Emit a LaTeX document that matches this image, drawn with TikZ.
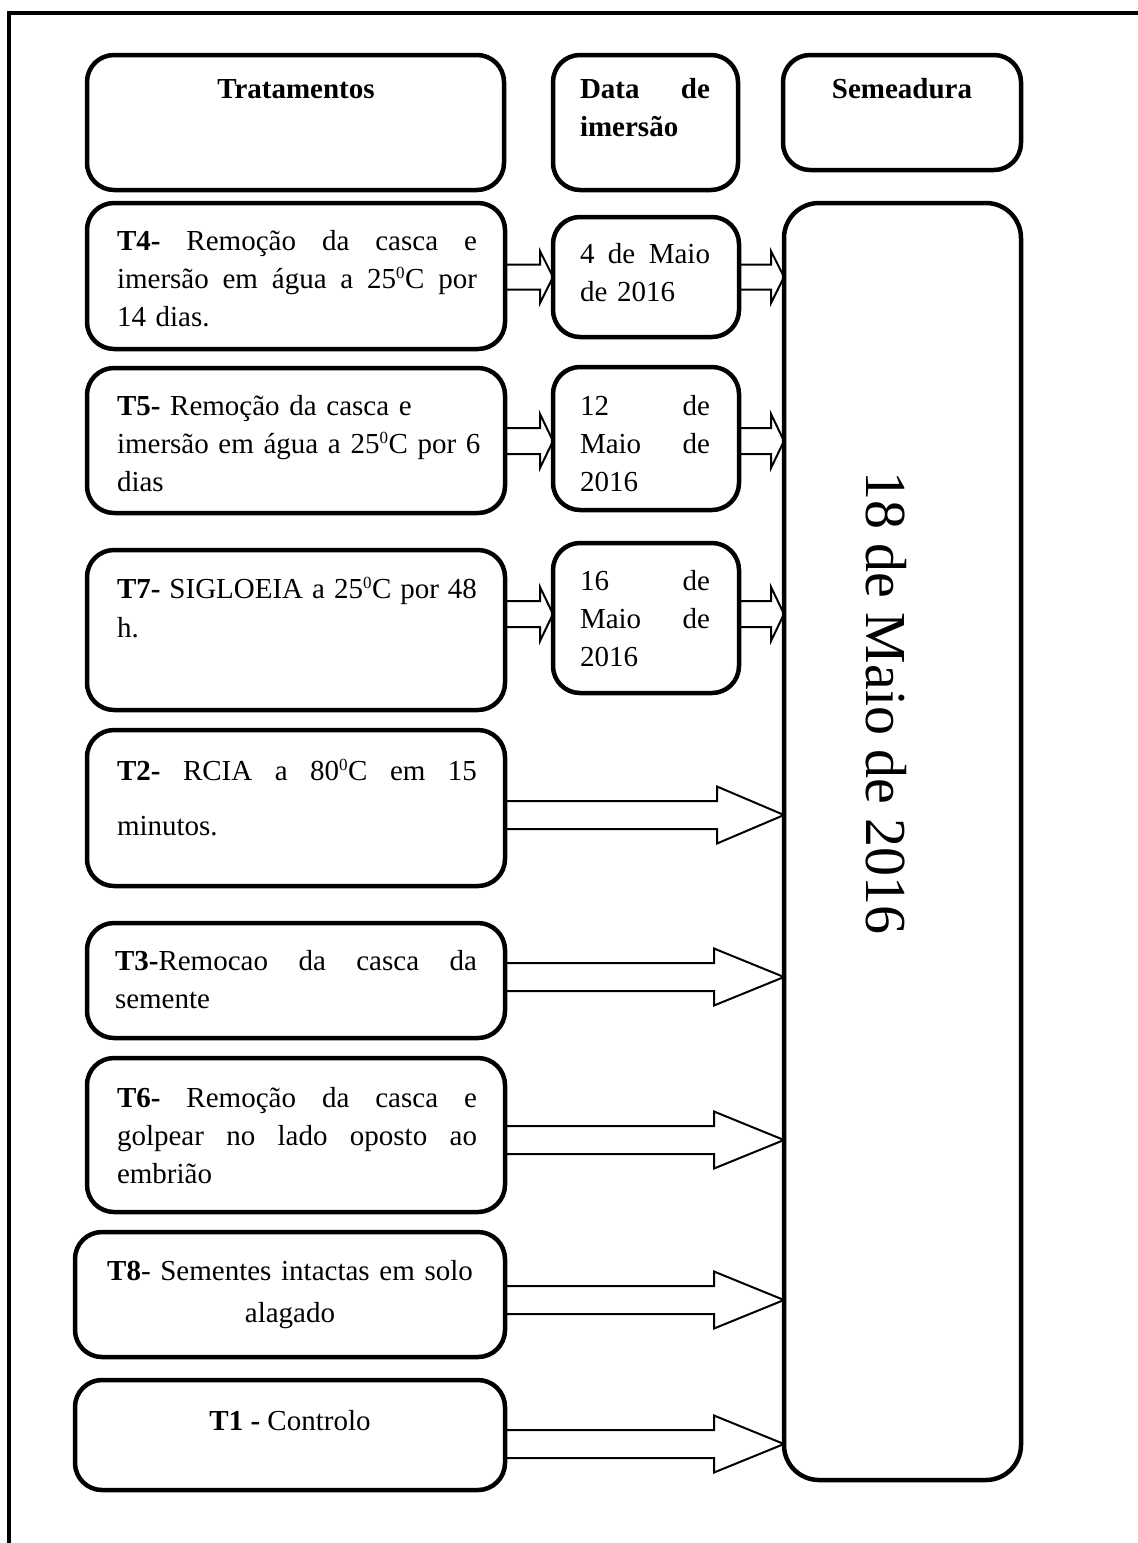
\documentclass[tikz,border=0pt]{standalone}
\usepackage{fontspec}
\setmainfont{Liberation Serif}
\usetikzlibrary{calc}
\newcommand{\degz}{\textsuperscript{\fontsize{17}{17}\selectfont 0}}
\tikzset{
  box/.style={draw, line width=4.5pt, rounded corners=27pt, inner sep=0pt, outer sep=0pt},
  bigbox/.style={box, rounded corners=35pt},
  txt/.style={inner sep=0pt, outer sep=0pt, anchor=base west, font=\fontsize{29}{38}\selectfont, align=left},
  ctxt/.style={inner sep=0pt, outer sep=0pt, anchor=base, font=\fontsize{29}{38}\selectfont, align=center},
  blk/.style={draw, line width=2pt, line join=miter},
  frame/.style={line width=4pt}
}
% #1 from node, #2 to node, #3 y, #4 body half height, #5 head half height, #6 head length
\newcommand{\blockarr}[6]{%
  \draw[blk] ($(#1.east |- 0,#3)+(0,-#4)$) -- ($(#2.west |- 0,#3)+(-#6,-#4)$)
    -- ($(#2.west |- 0,#3)+(-#6,-#5)$) -- (#2.west |- 0,#3)
    -- ($(#2.west |- 0,#3)+(-#6,#5)$) -- ($(#2.west |- 0,#3)+(-#6,#4)$)
    -- ($(#1.east |- 0,#3)+(0,#4)$);}
\begin{document}
\begin{tikzpicture}[x=1pt, y=-1pt]
\useasboundingbox (0,0) rectangle (1138,1543);
\draw[frame] (1138,13) -- (9,13) -- (9,1543);

% header boxes
\node[box, minimum width=417pt, minimum height=135pt] (trat) at (295.5,122.5) {};
\node[box, minimum width=185pt, minimum height=135pt] (data) at (645.5,122.5) {};
\node[box, minimum width=238pt, minimum height=115pt] (sem) at (902,112.5) {};
\node[ctxt] (tratt) at (296,98) {\textbf{Tratamentos}};
\node[txt, text width=130pt] (datat) at (580,98) {\textbf{Data\hfill de}\\ \textbf{imersão}};
\node[ctxt] (semt) at (902,98) {\textbf{Semeadura}};

% big sowing box
\node[bigbox, minimum width=237pt, minimum height=1277pt] (big) at (902.5,841.5) {};
\node[rotate=-90, inner sep=0pt, font=\fontsize{58}{70}\selectfont] (semdate) at (886,703) {18 de Maio de 2016};

% treatment boxes
\node[box, minimum width=418pt, minimum height=146pt] (t4) at (296,276) {};
\node[box, minimum width=418pt, minimum height=145pt] (t5) at (296,440.5) {};
\node[box, minimum width=418pt, minimum height=160pt] (t7) at (296,630) {};
\node[box, minimum width=418pt, minimum height=156pt] (t2) at (296,808) {};
\node[box, minimum width=418pt, minimum height=115pt] (t3) at (296,980.5) {};
\node[box, minimum width=418pt, minimum height=154pt] (t6) at (296,1135) {};
\node[box, minimum width=430pt, minimum height=125pt] (t8) at (290,1294.5) {};
\node[box, minimum width=430pt, minimum height=110pt] (t1) at (290,1435) {};

% date boxes
\node[box, minimum width=186pt, minimum height=120pt] (d1) at (646,277) {};
\node[box, minimum width=186pt, minimum height=143pt] (d2) at (646,438.5) {};
\node[box, minimum width=186pt, minimum height=150pt] (d3) at (646,618) {};

% texts
\node[txt, text width=360pt] (t4t) at (117,250) {\textbf{T4-}\hfill Remoção\hfill da\hfill casca\hfill e\\ imersão\hfill em\hfill água\hfill a\hfill 25\degz C\hfill por\\ 14 dias.};
\node[txt, text width=130pt] (d1t) at (580,263) {4\hfill de\hfill Maio\\ de 2016};
\node[txt, text width=375pt] (t5t) at (117,415) {\textbf{T5-} Remoção da casca e\\ imersão em água a 25\degz C por 6\\ dias};
\node[txt, text width=130pt] (d2t) at (580,415) {12\hfill de\\ Maio\hfill de\\ 2016};
\node[txt, text width=360pt, font=\fontsize{29}{39}\selectfont] (t7t) at (117,598) {\textbf{T7-}\hfill SIGLOEIA\hfill a\hfill 25\degz C\hfill por\hfill 48\\ h.};
\node[txt, text width=130pt] (d3t) at (580,590) {16\hfill de\\ Maio\hfill de\\ 2016};
\node[txt, text width=360pt, font=\fontsize{29}{55}\selectfont] (t2t) at (117,780) {\textbf{T2-}\hfill RCIA\hfill a\hfill 80\degz C\hfill em\hfill 15\\ minutos.};
\node[txt, text width=362pt] (t3t) at (115,970) {\textbf{T3-}Remocao\hfill da\hfill casca\hfill da\\ semente};
\node[txt, text width=360pt] (t6t) at (117,1107) {\textbf{T6-}\hfill Remoção\hfill da\hfill casca\hfill e\\ golpear\hfill no\hfill lado\hfill oposto\hfill ao\\ embrião};
\node[ctxt, text width=420pt, font=\fontsize{29}{42}\selectfont] (t8t) at (290,1280) {\textbf{T8}- Sementes intactas em solo\\ alagado};
\node[ctxt] (t1t) at (290,1430) {\textbf{T1 -} Controlo};

% arrows
\blockarr{t4}{d1}{277}{12.5}{26}{13}
\blockarr{d1}{big}{277}{12.5}{26}{13}
\blockarr{t5}{d2}{441}{13}{27}{13}
\blockarr{d2}{big}{441}{13}{27}{13}
\blockarr{t7}{d3}{614}{13}{27}{13}
\blockarr{d3}{big}{614}{13}{27}{13}
\blockarr{t2}{big}{815}{14}{28.5}{67}
\blockarr{t3}{big}{977}{14}{28.5}{70}
\blockarr{t6}{big}{1140}{14}{28.5}{70}
\blockarr{t8}{big}{1300}{14}{28.5}{70}
\blockarr{t1}{big}{1444}{14}{28.5}{70}
\end{tikzpicture}
\end{document}
